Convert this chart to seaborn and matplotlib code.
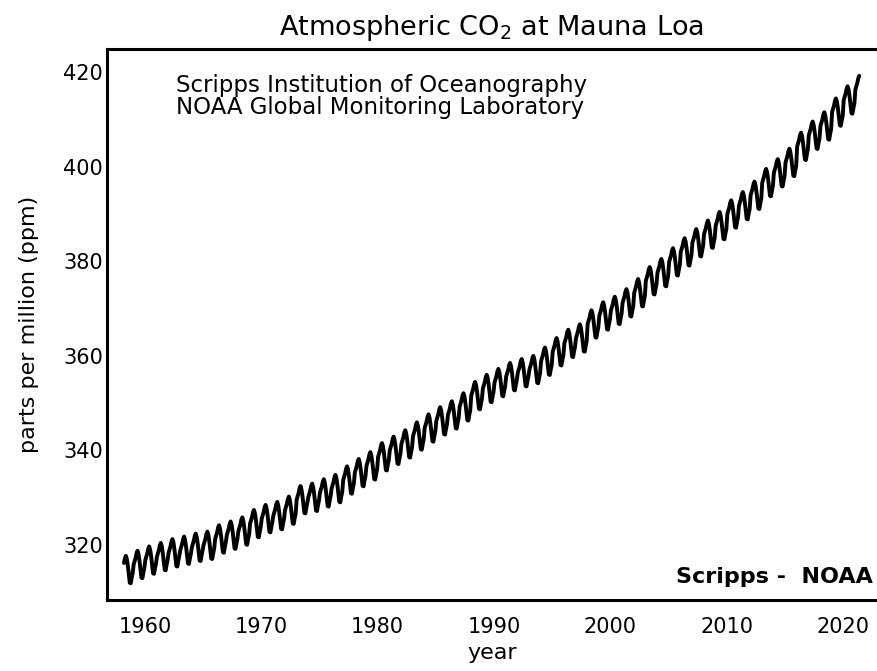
import numpy as np
import pandas as pd
import matplotlib
matplotlib.use('Agg')
import matplotlib.pyplot as plt
import seaborn as sns

# Annual means (ppm), 1958-2021
YEARS = list(range(1958, 2022))
ANNUAL_PPM = [
    314.9, 315.98, 316.91, 317.64, 318.45, 318.99, 319.62, 320.04, 321.37, 322.18,
    323.05, 324.62, 325.68, 326.32, 327.46, 329.68, 330.19, 331.12, 332.03, 333.84,
    335.41, 336.84, 338.76, 340.12, 341.48, 343.15, 344.85, 346.35, 347.61, 349.31,
    351.69, 353.20, 354.45, 355.70, 356.54, 357.21, 358.96, 360.97, 362.74, 363.88,
    366.84, 368.54, 369.71, 371.32, 373.45, 375.98, 377.70, 379.98, 382.09, 384.02,
    385.83, 387.64, 390.10, 391.85, 394.06, 396.74, 398.81, 401.01, 404.41, 406.76,
    408.72, 411.65, 414.21, 416.41,
]
# Seasonal swing around the annual mean, Jan..Dec (ppm)
SEASONAL_PPM = [-0.1, 0.6, 1.3, 2.3, 2.8, 2.1, 0.7, -1.2, -2.9, -3.0, -1.8, -0.8]

FIRST_MONTH = 3   # record starts March 1958
LAST_MONTH = 5    # ends May 2021

rows = []
for yr, mean in zip(YEARS, ANNUAL_PPM):
    for m, off in enumerate(SEASONAL_PPM, start=1):
        if yr == YEARS[0] and m < FIRST_MONTH:
            continue
        if yr == YEARS[-1] and m > LAST_MONTH:
            continue
        rows.append((yr + (m - 0.5) / 12, mean + off))
df = pd.DataFrame(rows, columns=['year', 'ppm'])

sns.set_theme(style='white')
plt.rcParams['font.family'] = ['DejaVu Sans']
plt.rcParams['text.color'] = 'black'
plt.rcParams['axes.labelcolor'] = 'black'

fig = plt.figure(figsize=(8.77, 6.71), dpi=100)
ax = fig.add_axes([0.122, 0.106, 0.878, 0.821])

sns.lineplot(data=df, x='year', y='ppm', ax=ax, color='black', linewidth=2.8,
             estimator=None, sort=False)

ax.set_xlim(1956.75, 2022.9)
ax.set_ylim(308.4, 424.9)
ax.set_xticks([1960, 1970, 1980, 1990, 2000, 2010, 2020])
ax.set_yticks([320, 340, 360, 380, 400, 420])
ax.tick_params(axis='both', length=0, labelsize=15, colors='black')
ax.tick_params(axis='x', pad=12)
ax.tick_params(axis='y', pad=3)

for side in ['left', 'top', 'bottom']:
    ax.spines[side].set_visible(True)
    ax.spines[side].set_color('black')
    ax.spines[side].set_linewidth(2.2)
ax.spines['right'].set_visible(False)

ax.set_title('Atmospheric CO$_2$ at Mauna Loa', fontsize=19.5, pad=10, color='black')
ax.set_xlabel('year', fontsize=16, labelpad=5)
ax.set_ylabel('parts per million (ppm)', fontsize=16, labelpad=17)

ax.text(0.09, 0.955, 'Scripps Institution of Oceanography\nNOAA Global Monitoring Laboratory',
        transform=ax.transAxes, fontsize=16.5, va='top', ha='left', linespacing=0.95)
ax.text(0.995, 0.042, 'Scripps -  NOAA', transform=ax.transAxes, fontsize=16,
        fontweight='bold', ha='right', va='center')

ax.grid(False)
fig.savefig('out.png', dpi=100)
